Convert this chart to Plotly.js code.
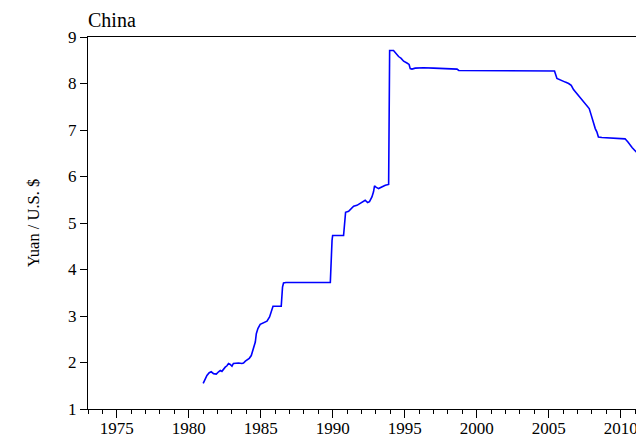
<!DOCTYPE html>
<html>
<head>
<meta charset="utf-8">
<script src="https://cdn.plot.ly/plotly-3.0.1.min.js"></script>
<style>html,body{margin:0;padding:0;background:#fff;}#chart{width:636px;height:437px;}</style>
</head>
<body>
<div id="chart"></div>
<script>
// Decimal years
const years = [
  1981.00, 1981.10, 1981.26, 1981.42, 1981.56, 1981.72, 1981.91, 1982.07, 1982.19, 1982.30,
  1982.42, 1982.53, 1982.65, 1982.76, 1982.88, 1983.00, 1983.10, 1983.30, 1983.46, 1983.69,
  1983.80, 1983.93, 1984.04, 1984.20, 1984.34, 1984.50, 1984.62, 1984.69, 1984.80, 1984.96,
  1985.20, 1985.43, 1985.61, 1985.73, 1985.85, 1986.12, 1986.42, 1986.51, 1986.58, 1986.75,
  1989.83, 1989.95, 1989.99, 1990.75, 1990.89, 1991.10, 1991.33, 1991.45, 1991.68, 1991.91,
  1992.10, 1992.25, 1992.42, 1992.55, 1992.72, 1992.83, 1992.90, 1993.00, 1993.18, 1993.40,
  1993.65, 1993.88, 1993.95, 1994.22, 1994.35, 1994.57, 1994.75, 1994.92, 1995.15, 1995.30,
  1995.38, 1995.50, 1995.73, 1996.30, 1997.00, 1997.93, 1998.63, 1998.75, 2000.24, 2002.50,
  2004.76, 2005.40, 2005.57, 2005.92, 2006.15, 2006.38, 2006.56, 2006.72, 2006.96, 2007.19,
  2007.42, 2007.65, 2007.81, 2007.95, 2008.10, 2008.23, 2008.34, 2008.45, 2008.69, 2009.38,
  2010.30, 2010.50, 2010.65, 2010.80, 2010.98, 2011.10
];
// Yuan per U.S. dollar
const yuanPerUSD = [
  1.55, 1.63, 1.72, 1.78, 1.80, 1.76, 1.75, 1.80, 1.83, 1.81,
  1.87, 1.90, 1.93, 1.98, 1.96, 1.92, 1.98, 1.99, 1.99, 1.98,
  1.99, 2.03, 2.06, 2.09, 2.15, 2.30, 2.44, 2.62, 2.73, 2.82,
  2.86, 2.89, 2.98, 3.09, 3.21, 3.21, 3.21, 3.62, 3.71, 3.72,
  3.72, 4.63, 4.73, 4.73, 5.23, 5.25, 5.33, 5.36, 5.38, 5.42,
  5.47, 5.49, 5.44, 5.46, 5.56, 5.67, 5.80, 5.77, 5.74, 5.78,
  5.81, 5.83, 8.71, 8.71, 8.66, 8.58, 8.54, 8.48, 8.44, 8.41,
  8.32, 8.31, 8.33, 8.34, 8.33, 8.32, 8.31, 8.28, 8.28, 8.28,
  8.28, 8.27, 8.11, 8.07, 8.03, 8.00, 7.96, 7.87, 7.78, 7.71,
  7.60, 7.53, 7.46, 7.32, 7.14, 7.03, 6.96, 6.85, 6.84, 6.83,
  6.81, 6.74, 6.67, 6.62, 6.56, 6.52
];
const xTickVals = [1975, 1980, 1985, 1990, 1995, 2000, 2005, 2010];
const xTickText = ["1975", "1980", "1985", "1990", "1995", "2000", "2005", "2010"];
const yTickVals = [1, 2, 3, 4, 5, 6, 7, 8, 9];

const serif = "'Liberation Serif', 'Times New Roman', serif";

Plotly.newPlot('chart', [{
  x: years,
  y: yuanPerUSD,
  type: 'scatter',
  mode: 'lines',
  line: {color: '#0000ff', width: 1.6},
  hoverinfo: 'skip'
}], {
  width: 636,
  height: 437,
  margin: {l: 88, r: 0, t: 37, b: 28, pad: 0},
  paper_bgcolor: '#ffffff',
  plot_bgcolor: '#ffffff',
  showlegend: false,
  font: {family: serif, color: '#000000', size: 17},
  title: {
    text: 'China',
    font: {family: serif, size: 20, color: '#000'},
    x: 0, xref: 'paper', xanchor: 'left',
    y: 1 - 20 / 437, yref: 'container', yanchor: 'middle'
  },
  xaxis: {
    range: [1973, 2011.06],
    tickmode: 'array', tickvals: xTickVals, ticktext: xTickText,
    ticks: 'outside', ticklen: 8, tickwidth: 1, tickcolor: '#000',
    minor: {dtick: 1, tick0: 1973, ticks: 'outside', ticklen: 4, tickwidth: 1, tickcolor: '#000', showgrid: false},
    showline: true, linecolor: '#000', linewidth: 1.2, mirror: true,
    showgrid: false, zeroline: false,
    ticklabeloverflow: 'allow',
    ticklabelstandoff: -5,
    tickfont: {family: serif, size: 17, color: '#000'}
  },
  yaxis: {
    range: [1, 9],
    tickmode: 'array', tickvals: yTickVals,
    ticks: 'outside', ticklen: 7, tickwidth: 1, tickcolor: '#000',
    showline: true, linecolor: '#000', linewidth: 1.2, mirror: false,
    showgrid: false, zeroline: false,
    tickfont: {family: serif, size: 17, color: '#000'},
    title: {text: 'Yuan / U.S. $', font: {family: serif, size: 16.5, color: '#000'}, standoff: 24}
  }
}, {staticPlot: true, displayModeBar: false});
</script>
</body>
</html>
